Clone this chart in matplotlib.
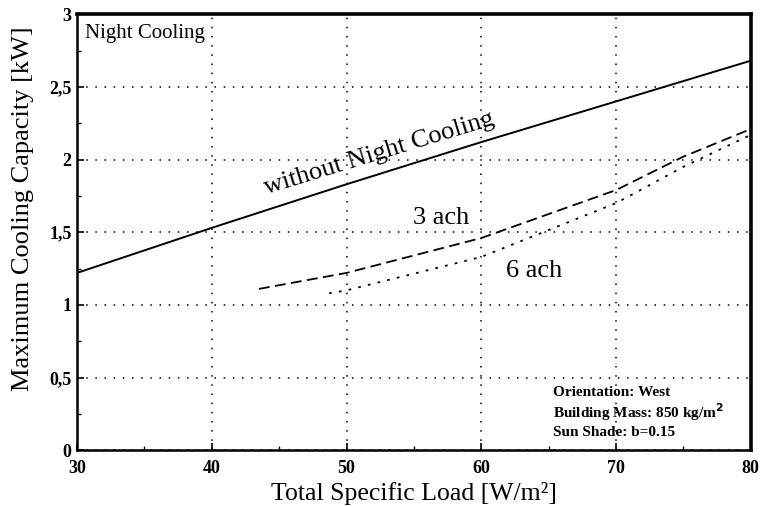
import matplotlib
matplotlib.use("Agg")
import matplotlib.pyplot as plt
from matplotlib.ticker import FuncFormatter, MultipleLocator

plt.rcParams["font.family"] = ["Liberation Serif", "DejaVu Serif"]

# Daten
load_without = [30, 40, 50, 60, 70, 80]
cap_without = [1.22, 1.53, 1.83, 2.12, 2.40, 2.68]

load_3ach = [43.5, 50, 60, 70, 75, 80]
cap_3ach = [1.11, 1.22, 1.46, 1.79, 2.02, 2.21]

load_6ach = [48.7, 50, 60, 70, 75, 80]
cap_6ach = [1.08, 1.10, 1.33, 1.70, 1.95, 2.17]

x_ticks = [30, 40, 50, 60, 70, 80]
y_ticks = [0, 0.5, 1, 1.5, 2, 2.5, 3]

fig = plt.figure(figsize=(7.63, 5.07), dpi=100)
ax = fig.add_axes([0.101, 0.112, 0.883, 0.860])

ax.plot(load_without, cap_without, color="black", lw=1.4, ls="-")
ax.plot(load_3ach, cap_3ach, color="black", lw=1.3, ls=(0, (6, 3)))
ax.plot(load_6ach, cap_6ach, color="black", lw=1.3, ls=(0, (1.5, 4)))

ax.set_xlim(30, 80)
ax.set_ylim(0, 3)
ax.set_xticks(x_ticks)
ax.set_yticks(y_ticks)
ax.xaxis.set_minor_locator(MultipleLocator(5))
ax.yaxis.set_minor_locator(MultipleLocator(0.25))

fmt = FuncFormatter(lambda v, p: ("%g" % v).replace(".", ","))
ax.yaxis.set_major_formatter(fmt)

ax.grid(True, which="major", color="black", ls=(0, (1, 5)), lw=1.1)
ax.tick_params(which="both", direction="in", color="black")
ax.tick_params(which="major", length=5, width=1.2, labelsize=13)
ax.tick_params(axis="x", which="major", pad=7)
ax.tick_params(axis="y", which="major", pad=4)
ax.tick_params(which="minor", length=3, width=1.0)
for lab in ax.get_xticklabels() + ax.get_yticklabels():
    lab.set_fontweight("bold")

for side in ["left", "bottom"]:
    ax.spines[side].set_linewidth(1.8)
for side in ["top", "right"]:
    ax.spines[side].set_linewidth(2.6)

ax.set_xlabel("Total Specific Load [W/m²]", fontsize=18.5, labelpad=4)
ax.set_ylabel("Maximum Cooling Capacity [kW]", fontsize=19)
ax.yaxis.set_label_coords(-0.064, 0.555)

ax.text(0.012, 0.978, "Night Cooling", transform=ax.transAxes,
        ha="left", va="top", fontsize=15)
ax.text(52.4, 2.04, "without Night Cooling", rotation=17,
        ha="center", va="center", fontsize=19, rotation_mode="anchor")
ax.text(57.0, 1.60, "3 ach", ha="center", va="center", fontsize=19)
ax.text(63.9, 1.23, "6 ach", ha="center", va="center", fontsize=19)

info = ["Orientation: West",
        "Building Mass: 850 kg/m$^{\\mathbf{2}}$",
        "Sun Shade: b=0.15"]
for i, line in enumerate(info):
    ax.text(65.3, 0.40 - i * 0.14, line, ha="left", va="center",
            fontsize=11, fontweight="bold")

fig.savefig("out.png", dpi=100)
